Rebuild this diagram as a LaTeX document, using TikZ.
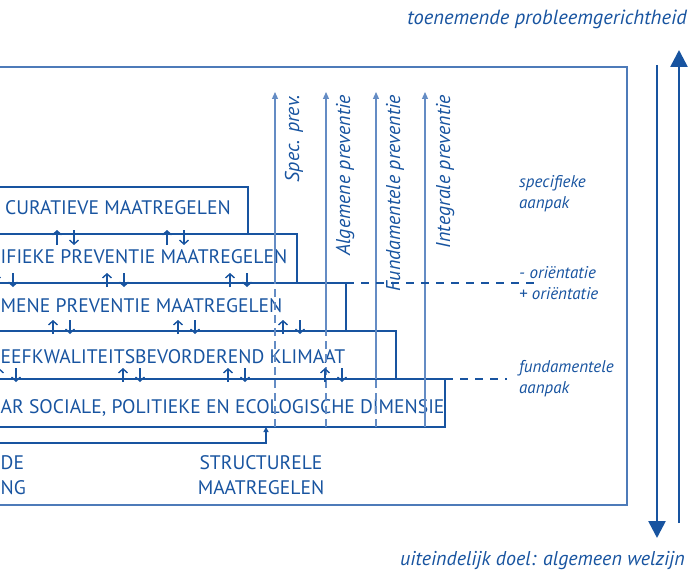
\documentclass[tikz,border=0pt]{standalone}
\usepackage{fontspec}
\setmainfont{PT Sans}
\usetikzlibrary{arrows.meta,positioning}
\definecolor{pb}{RGB}{24,84,160}
\definecolor{pl}{RGB}{100,140,196}
\begin{document}
\begin{tikzpicture}[x=1pt,y=-1pt,
  font=\fontsize{19.6}{25}\selectfont, text=pb,
  lv/.style={draw=pb,line width=2.2pt,outer sep=0pt,inner sep=0pt,anchor=north east},
  t/.style={inner sep=0pt,anchor=base west},
  it/.style={inner sep=0pt,font=\fontsize{17}{21}\selectfont\itshape,align=left,anchor=west},
  tt/.style={inner sep=0pt,font=\fontsize{20.5}{22}\selectfont\itshape,anchor=base east},
  vt/.style={inner sep=0pt,font=\fontsize{20}{22}\selectfont\itshape,rotate=90,anchor=base east},
  vl/.style={draw=pl,line width=1.2pt},
  va/.style={vl,-{Triangle[length=7pt,width=6pt]}},
  sm/.style={draw=pb,line width=1.4pt,-{Straight Barb[length=4pt,width=9pt]}},
  dl/.style={draw=pb,line width=2pt,dash pattern=on 8pt off 7pt},
  big/.style={draw=pb,line width=2.6pt,-{Triangle[length=17pt,width=17pt]}}]
\useasboundingbox (0,0) rectangle (690,572);
\clip (0,0) rectangle (690,572);
\draw[pl!70!pb,line width=1.3pt] (-30,67) rectangle (627,505);
\foreach \n/\r/\ya/\yb in {1/248/187/234,2/297/234/283,3/346/283/331,4/396/331/379,5/445/379/427}
  \node[lv,minimum width=\r+30,minimum height=\yb-\ya] (b\n) at (\r,\ya) {};
\node[t,anchor=base east] (t1) at (231,214) {CURATIEVE MAATREGELEN};
\node[t] (t2) at (0.5,263) {IFIEKE PREVENTIE MAATREGELEN};
\node[t] (t3) at (0.5,312) {MENE PREVENTIE MAATREGELEN};
\node[t] (t4) at (0.5,363) {EEFKWALITEITSBEVORDEREND KLIMAAT};
\node[t] (t5) at (0.5,413) {AR SOCIALE, POLITIEKE EN ECOLOGISCHE DIMENSIE};
\foreach \n/\x/\y/\lx/\lab in {sp/275/283/299/Spec. prev.,al/326/331/350/Algemene preventie,fu/376/379/400/Fundamentele preventie,ig/425/427/450/Integrale preventie}{
  \coordinate (\n0) at (\x,427);
  \coordinate (\n1) at (\x,\y);
  \coordinate (\n2) at (\x,92);
  \draw[vl,dash pattern=on 8pt off 5pt] (\n0) -- (\n1);
  \draw[va] (\n1) -- (\n2);
  \node[vt] (\n) at (\lx,95) {\lab};}
\foreach \x/\ya/\yb in {57/230/245,167/230/245,-4/273/287,107/273/287,230/273/287,53/320/334,178/320/334,283/320/334,-1/368/382,123/368/382,228/368/382,325/368/382}{
  \draw[sm] (\x,\yb) -- (\x,\ya);
  \draw[sm] (\x+17,\ya) -- (\x+17,\yb);}
\coordinate (e1) at (537,283);
\coordinate (e2) at (507,379);
\draw[dl] (b3.north east) -- (e1);
\draw[dl] (b5.north east) -- (e2);
\node[it] (sa) at (519,194) {specifieke\\aanpak};
\node[it] (or) at (519,283) {- oriëntatie\\+ oriëntatie};
\node[it] (fa) at (519,379) {fundamentele\\aanpak};
\node[inner sep=0pt,align=center] (str) at (261,475) {STRUCTURELE\\MAATREGELEN};
\node[inner sep=0pt,align=left,anchor=west] (pg) at (0.5,475) {DE\\NG};
\coordinate (c0) at (-30,443);
\coordinate (c1) at (266,443);
\draw[draw=pb,line width=2pt,-{Triangle[length=5pt,width=5pt]}] (c0) -- (c1) -- (c1 |- b5.south);
\coordinate (d0) at (657,65);
\coordinate (d1) at (657,538);
\coordinate (u0) at (679,523);
\coordinate (u1) at (679,50);
\draw[big] (d0) -- (d1);
\draw[big] (u0) -- (u1);
\node[tt] (top) at (687,25) {toenemende probleemgerichtheid};
\node[tt,font=\fontsize{20}{22}\selectfont\itshape] (bot) at (685,565) {uiteindelijk doel: algemeen welzijn};
\end{tikzpicture}
\end{document}
